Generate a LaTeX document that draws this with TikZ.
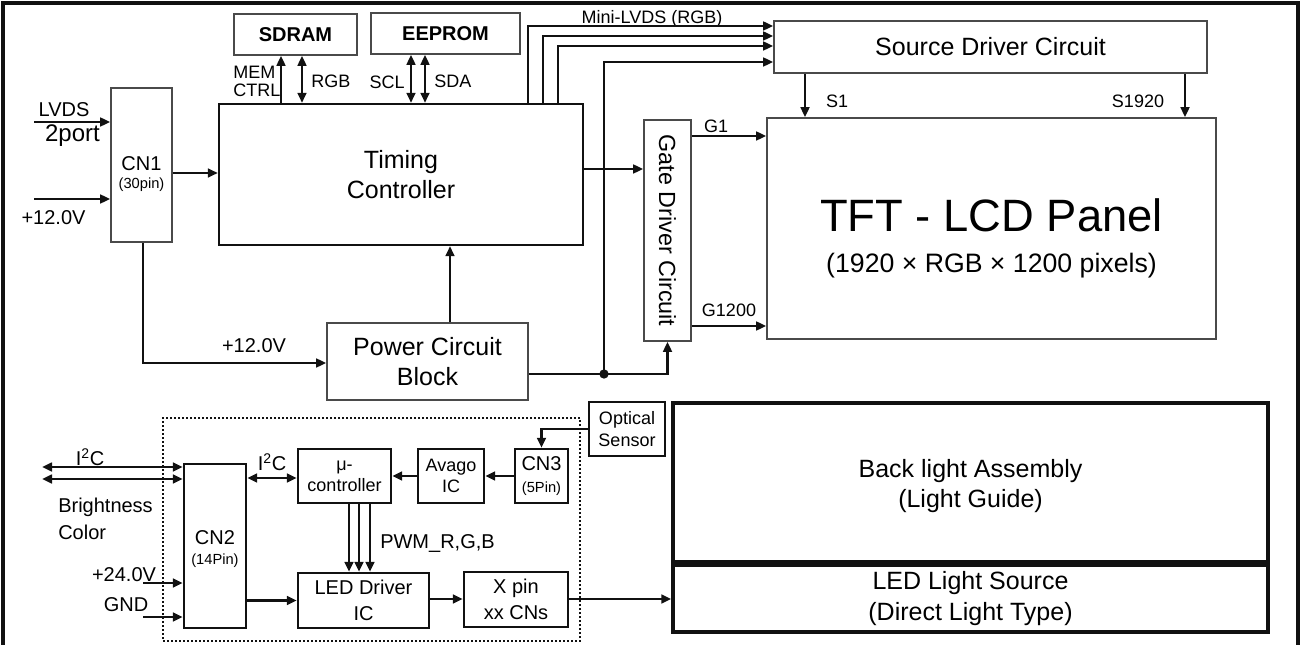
\documentclass[tikz,border=0pt]{standalone}
\usepackage{fontspec}
\setmainfont{Liberation Sans}
\usepackage{graphicx}
\usetikzlibrary{arrows.meta}
\definecolor{darkline}{HTML}{111111}
\definecolor{boxborder}{HTML}{4A4A4A}
\newcommand{\pinsize}{\fontsize{11}{13}\selectfont}
\tikzset{
  sz/.style n args={2}{minimum width=#1*0.75pt, minimum height=#2*0.75pt},
  bigtxt/.style={font=\fontsize{18.75}{23}\selectfont},
  midtxt/.style={font=\fontsize{15}{20}\selectfont},
  smalltxt/.style={font=\fontsize{13.5}{16}\selectfont},
  boldtxt/.style={font=\fontsize{15}{18}\selectfont\bfseries},
  block/.style={rectangle, draw=boxborder, line width=1.2pt, inner sep=0pt, align=center, bigtxt},
  mainblock/.style={block, draw=darkline, line width=1.7pt},
  lowblock/.style={block, draw=darkline, line width=1.8pt, midtxt},
  heavyblock/.style={block, draw=darkline, line width=2.6pt},
  groupbox/.style={rectangle, draw=darkline, line width=1.5pt, dash pattern=on 1.5pt off 1.5pt, inner sep=0pt},
  lbl/.style={inner sep=0pt, align=center},
  junction/.style={circle, fill=darkline, inner sep=0pt, minimum size=7pt},
  flow/.style={-{Triangle[length=7.5pt,width=6.5pt]}, line width=2pt, draw=darkline},
  bothflow/.style={{Triangle[length=7.5pt,width=6.5pt]}-{Triangle[length=7.5pt,width=6.5pt]}, line width=2pt, draw=darkline},
  frame/.style={draw=darkline, line width=2.5pt}
}
\begin{document}
\begin{tikzpicture}[x=0.75pt, y=-0.75pt]
\useasboundingbox (0,0) rectangle (1303,645);
\draw[frame] (3,3) rectangle (1298,652);

\node[groupbox, sz={417}{223}] (ledgroup) at (371.5,529.5) {};

\node[block, sz={123}{41}, boldtxt] (sdram) at (295.5,34.5) {SDRAM};
\node[block, sz={149}{41}, boldtxt] (eeprom) at (445.5,33.5) {EEPROM};
\node[mainblock, sz={364}{141}] (timing) at (401,174.5) {Timing\\Controller};
\node[block, sz={61}{154}] (cn1) at (141.5,165) {};
\node[lbl, midtxt] (cn1name) at (141.5,164) {CN1};
\node[lbl] (cn1pins) at (141.5,185) {\pinsize (30pin)};
\node[block, sz={201}{77}] (power) at (427.5,361.5) {Power Circuit\\Block};
\node[block, sz={47}{221}] (gate) at (667.5,230.5) {\rotatebox{-90}{\fontsize{17.5}{20}\selectfont Gate Driver Circuit}};
\node[block, sz={433}{52}] (source) at (990.5,47) {Source Driver Circuit};
\node[block, sz={449}{221}] (panel) at (991.5,228.5) {};
\node[lbl, font=\fontsize{34}{38}\selectfont] (paneltitle) at (991.5,215) {TFT - LCD Panel};
\node[lbl, font=\fontsize{20}{24}\selectfont] (panelsub) at (991.5,266) {(1920 × RGB × 1200 pixels)};

\node[heavyblock, sz={595}{159}] (backlight) at (970.5,482.5) {};
\node[lbl, bigtxt] (backlighttxt) at (970.5,486) {Back light Assembly\\(Light Guide)};
\node[heavyblock, sz={595}{67}] (ledsrc) at (970.5,598.5) {LED Light Source\\(Direct Light Type)};

\node[lowblock, sz={62}{164}] (cn2) at (215,546) {};
\node[lbl, midtxt] (cn2name) at (215,538) {CN2};
\node[lbl] (cn2pins) at (215,561) {\pinsize (14Pin)};
\node[lowblock, sz={93}{54}, smalltxt] (muc) at (344.5,476) {μ-\\controller};
\node[lowblock, sz={66}{54}, smalltxt] (avago) at (451,476) {Avago\\IC};
\node[lowblock, sz={53}{54}] (cn3) at (541.5,476) {CN3\\[-3pt]{\pinsize (5Pin)}};
\node[lowblock, sz={76}{54}, smalltxt] (optical) at (627,429) {Optical\\Sensor};
\node[lowblock, sz={131}{55}] (leddrv) at (363.5,600.5) {LED Driver\\IC};
\node[lowblock, sz={104}{55}] (xpin) at (516,599.5) {X pin\\xx CNs};

\coordinate (lvdsin) at (34,122);
\coordinate (vin) at (34,199);
\coordinate (i2ca) at (42,467);
\coordinate (i2cb) at (42,479);
\coordinate (v24in) at (143,583);
\coordinate (gndin) at (143,617);
\node[junction] (pdot) at (604,374) {};

\node[lbl, midtxt] (lvdslbl) at (64,109.5) {LVDS};
\node[lbl, font=\fontsize{18}{20}\selectfont] (portlbl) at (72.5,136) {2port};
\node[lbl, midtxt] (vinlbl) at (53.5,218) {+12.0V};
\node[lbl, anchor=west, align=left, font=\fontsize{13.5}{13.5}\selectfont] (memlbl) at (233,81) {MEM\\CTRL};
\node[lbl, smalltxt, anchor=west] (rgblbl) at (311,81) {RGB};
\node[lbl, smalltxt, anchor=east] (scllbl) at (405,82) {SCL};
\node[lbl, smalltxt, anchor=west] (sdalbl) at (434,81) {SDA};
\node[lbl, smalltxt] (minilbl) at (652,19) {Mini-LVDS (RGB)};
\node[lbl, smalltxt] (s1lbl) at (837,101) {S1};
\node[lbl, smalltxt] (snlbl) at (1138,101) {S1920};
\node[lbl, smalltxt] (g1lbl) at (716,126) {G1};
\node[lbl, smalltxt] (gnlbl) at (729,310) {G1200};
\node[lbl, midtxt] (pwrlbl) at (254,346) {+12.0V};
\node[lbl, midtxt] (i2clbl) at (90,457) {I\textsuperscript{2}C};
\node[lbl, midtxt] (i2cinlbl) at (272,462) {I\textsuperscript{2}C};
\node[lbl, midtxt, anchor=west, align=left] (brightlbl) at (58,519) {Brightness\\Color};
\node[lbl, midtxt] (v24lbl) at (124,575) {+24.0V};
\node[lbl, midtxt] (gndlbl) at (126,605) {GND};
\node[lbl, midtxt, anchor=west] (pwmlbl) at (380,544) {PWM\_R,G,B};

\draw[flow] (lvdsin) -- (lvdsin -| cn1.west);
\draw[flow] (vin) -- (vin -| cn1.west);
\draw[flow] (cn1.east |- 0,173) -- (timing.west |- 0,173);
\draw[flow] (281,0 |- timing.north) -- (281,0 |- sdram.south);
\draw[bothflow] (302,0 |- timing.north) -- (302,0 |- sdram.south);
\foreach \x in {411,425} {
  \draw[bothflow] (\x,0 |- timing.north) -- (\x,0 |- eeprom.south);
}
\foreach \x/\y in {528/26,543/36,558/46} {
  \draw[flow] (\x,0 |- timing.north) |- (source.west |- 0,\y);
}
\draw[flow] (pdot.center) |- (source.west |- 0,62);
\draw[flow] (timing.east |- 0,169) -- (gate.west |- 0,169);
\draw[flow] (gate.east |- 0,136) -- (panel.west |- 0,136);
\draw[flow] (gate.east |- 0,326) -- (panel.west |- 0,326);
\draw[flow] (805,0 |- source.south) -- (805,0 |- panel.north);
\draw[flow] (1185,0 |- source.south) -- (1185,0 |- panel.north);
\draw[flow] (143,0 |- cn1.south) |- (power.west |- 0,363);
\draw[flow] (450,0 |- power.north) -- (450,0 |- timing.south);
\draw[flow] (power.east |- pdot) -| (gate.south);

\draw[bothflow] (i2ca) -- (i2ca -| cn2.west);
\draw[bothflow] (i2cb) -- (i2cb -| cn2.west);
\draw[flow] (v24in) -- (v24in -| cn2.west);
\draw[flow] (gndin) -- (gndin -| cn2.west);
\draw[bothflow] (cn2.east |- 0,478) -- (muc.west |- 0,478);
\draw[flow] (cn2.east |- leddrv.west) -- (leddrv.west);
\draw[flow] (optical.west) -| (cn3.north);
\draw[flow] (cn3.west) -- (avago.east);
\draw[flow] (avago.west) -- (muc.east);
\foreach \x in {349,359,370} {
  \draw[flow] (\x,0 |- muc.south) -- (\x,0 |- leddrv.north);
}
\draw[flow] (leddrv.east |- 0,599) -- (xpin.west |- 0,599);
\draw[flow] (xpin.east |- 0,599) -- (ledsrc.west |- 0,599);

\end{tikzpicture}
\end{document}
